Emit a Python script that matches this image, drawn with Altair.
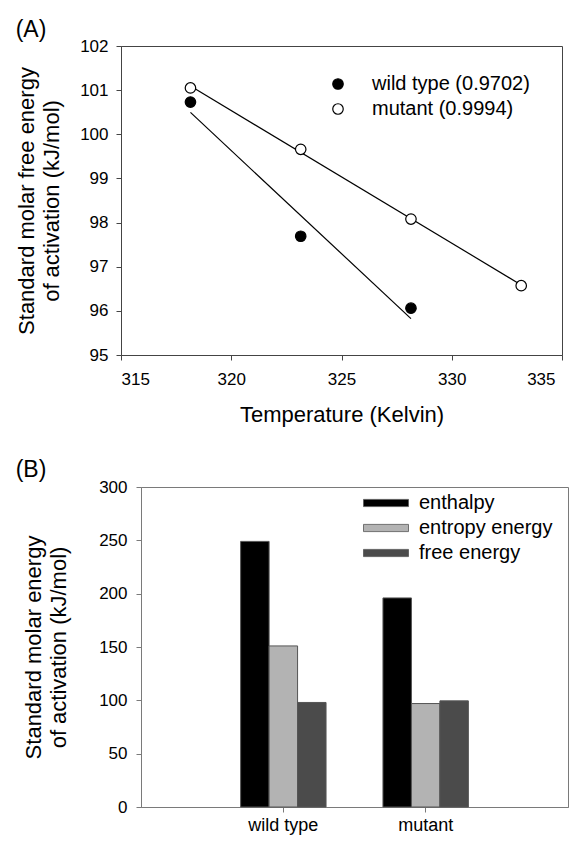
import altair as alt
import pandas as pd

FONT = "Liberation Sans"

# ---------------- Panel A data ----------------
temperature_k = [318.15, 323.15, 328.15, 333.15]
wild_type_dg = [100.73, 97.69, 96.06]
mutant_dg = [101.05, 99.66, 98.08, 96.57]
series_names = ["wild type (0.9702)", "mutant (0.9994)"]
x_ticks_a = [315, 320, 325, 330, 335]
y_ticks_a = [95, 96, 97, 98, 99, 100, 101, 102]

# ---------------- Panel B data ----------------
genotypes = ["wild type", "mutant"]
components = ["enthalpy", "entropy energy", "free energy"]
enthalpy = [249, 196]
entropy_energy = [151, 97]
free_energy = [98, 99.5]
y_ticks_b = [0, 50, 100, 150, 200, 250, 300]

rows_a = []
for t, g in zip(temperature_k, wild_type_dg):
    rows_a.append({"T": t, "G": g, "series": series_names[0]})
for t, g in zip(temperature_k, mutant_dg):
    rows_a.append({"T": t, "G": g, "series": series_names[1]})
df_a = pd.DataFrame(rows_a)

rows_b = []
for i, gt in enumerate(genotypes):
    for comp, vals in zip(components, [enthalpy, entropy_energy, free_energy]):
        rows_b.append({"genotype": gt, "component": comp, "value": vals[i]})
df_b = pd.DataFrame(rows_b)

AX_A = "#444444"
AX_B = "#7a7a7a"

xa = alt.X(
    "T:Q",
    scale=alt.Scale(domain=[315, 335], nice=False, zero=False),
    axis=alt.Axis(values=x_ticks_a, format="d", title="Temperature (Kelvin)", grid=False,
                  domainColor=AX_A, tickColor=AX_A, tickSize=5, labelFont=FONT,
                  labelFontSize=17, labelColor="black", labelPadding=11,
                  labelOffset={"condition": {"test": "datum.value == 335", "value": -7}, "value": 0},
                  titleFont=FONT, titleFontSize=22, titleFontWeight="normal",
                  titleColor="black", titlePadding=17),
)
ya = alt.Y(
    "G:Q",
    scale=alt.Scale(domain=[95, 102], nice=False, zero=False),
    axis=alt.Axis(values=y_ticks_a, format="d",
                  title=["Standard molar free energy", "of activation (kJ/mol)"], grid=False,
                  domainColor=AX_A, tickColor=AX_A, tickSize=5, labelFont=FONT,
                  labelFontSize=17, labelColor="black", labelPadding=8,
                  titleFont=FONT, titleFontSize=22, titleFontWeight="normal",
                  titleColor="black", titlePadding=16, titleLineHeight=25),
)

base_a = alt.Chart(df_a)
fit_lines = base_a.transform_regression("T", "G", groupby=["series"]).mark_line(
    color="black", strokeWidth=1.2
).encode(x=xa, y=ya, detail="series:N")

points = base_a.mark_point(filled=True, size=110, stroke="black", strokeWidth=1.2, opacity=1).encode(
    x=xa,
    y=ya,
    fill=alt.Fill(
        "series:N",
        sort=series_names,
        scale=alt.Scale(domain=series_names, range=["black", "white"]),
        legend=alt.Legend(title=None, orient="none", legendX=207, legendY=28,
                          symbolType="circle", symbolSize=110, symbolStrokeColor="black",
                          symbolStrokeWidth=1.2, symbolOpacity=1, labelFont=FONT,
                          labelFontSize=20, labelColor="black", labelOffset=24,
                          clipHeight=20, rowPadding=5),
    ),
)

chart_a = alt.layer(fit_lines, points).properties(
    width=441,
    height=309,
    title=alt.TitleParams("(A)", anchor="start", frame="bounds", font=FONT, fontSize=23,
                          fontWeight="normal", color="black", offset=-4.5, dx=0),
    view=alt.ViewBackground(stroke=AX_A),
)

bars = alt.Chart(df_b).mark_bar(stroke="#555555", strokeWidth=1).encode(
    x=alt.X("genotype:N", sort=genotypes,
            scale=alt.Scale(paddingInner=0.4, paddingOuter=0.7),
            axis=alt.Axis(title=None, labelAngle=0, domainColor=AX_B, tickColor=AX_B, tickSize=5,
                          labelFont=FONT, labelFontSize=18, labelColor="black", labelPadding=4)),
    xOffset=alt.XOffset("component:N", sort=components,
                        scale=alt.Scale(paddingInner=0, paddingOuter=0)),
    y=alt.Y("value:Q", scale=alt.Scale(domain=[0, 300], nice=False),
            axis=alt.Axis(values=y_ticks_b, title=["Standard molar energy", "of activation (kJ/mol)"],
                          grid=False, domainColor=AX_B, tickColor=AX_B, tickSize=5,
                          labelFont=FONT, labelFontSize=17, labelColor="black", labelPadding=9,
                          titleFont=FONT, titleFontSize=22, titleFontWeight="normal",
                          titleColor="black", titlePadding=28.5, titleLineHeight=25)),
    color=alt.Color("component:N", sort=components,
                    scale=alt.Scale(domain=components, range=["#000000", "#b3b3b3", "#4b4b4b"]),
                    legend=alt.Legend(title=None, orient="none", legendX=222, legendY=6,
                                      symbolType="M-1,-0.16L1,-0.16L1,0.16L-1,0.16Z",
                                      symbolSize=2025, symbolStrokeColor="#555555",
                                      symbolStrokeWidth=0.8, symbolOpacity=1,
                                      labelFont=FONT, labelFontSize=20, labelColor="black",
                                      labelOffset=10, clipHeight=20, rowPadding=5)),
)

chart_b = bars.properties(
    width=427,
    height=320,
    title=alt.TitleParams("(B)", anchor="start", frame="bounds", font=FONT, fontSize=23,
                          fontWeight="normal", color="black", offset=-4, dx=-6.5),
    view=alt.ViewBackground(stroke=AX_B),
)


def spacer():
    return alt.Chart(pd.DataFrame({"s": [0]})).mark_text(text="").encode(
        x=alt.value(0), y=alt.value(0)
    ).properties(width=1, height=1, view=alt.ViewBackground(stroke="transparent"))


row_a = alt.hconcat(spacer(), chart_a, spacing=0).resolve_legend(fill="independent", color="independent")
row_b = alt.hconcat(spacer(), chart_b, spacing=0).resolve_legend(fill="independent", color="independent")

chart = alt.vconcat(row_a, row_b, spacing=32).resolve_legend(
    fill="independent", color="independent"
).properties(
    padding={"left": 4, "top": 10, "right": 0, "bottom": 0}
).configure(font=FONT)

chart.save("out.html", embed_options={"renderer": "svg", "actions": False})
